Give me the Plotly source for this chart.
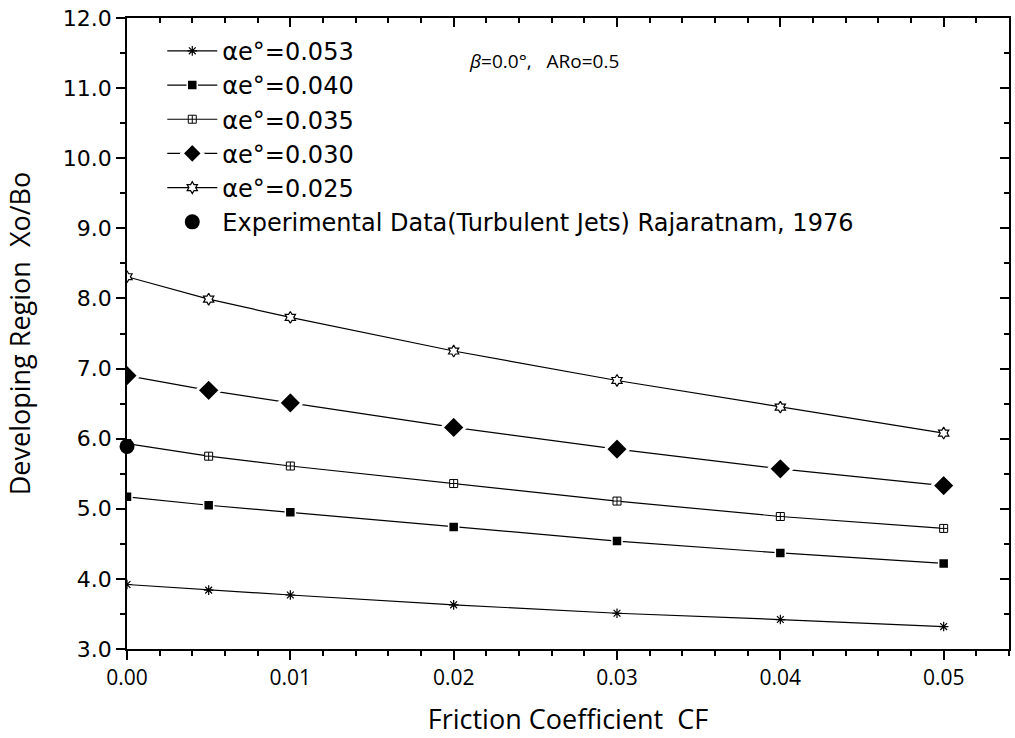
import plotly.graph_objects as go

cf = [0.0, 0.005, 0.01, 0.02, 0.03, 0.04, 0.05]
s053 = [3.92, 3.84, 3.77, 3.63, 3.51, 3.42, 3.32]
s040 = [5.17, 5.05, 4.95, 4.74, 4.54, 4.37, 4.22]
s035 = [5.93, 5.75, 5.61, 5.36, 5.11, 4.89, 4.72]
s030 = [6.90, 6.69, 6.51, 6.16, 5.85, 5.57, 5.33]
s025 = [8.31, 7.99, 7.73, 7.25, 6.83, 6.45, 6.08]
exp_x = [0.0]
exp_y = [5.89]

names = ["αe°=0.053", "αe°=0.040", "αe°=0.035", "αe°=0.030", "αe°=0.025"]
series = [s053, s040, s035, s030, s025]
symbols = ["asterisk-open", "square", "square-cross", "diamond", "hexagram"]
fills = ["black", "black", "white", "black", "white"]
mlines = [dict(color="black", width=1.2), dict(color="white", width=1.5),
          dict(color="black", width=1), dict(color="white", width=3),
          dict(color="black", width=1.2)]
sizes = [8, 10, 8, 18, 9]

FONT = "DejaVu Sans"
fig = go.Figure()
for n, s, sym, fc, ml, sz in zip(names, series, symbols, fills, mlines, sizes):
    fig.add_trace(go.Scatter(
        x=cf, y=s, name=n, mode="lines+markers",
        line=dict(color="black", width=1.2),
        marker=dict(symbol=sym, color=fc, size=sz, line=ml),
    ))
# experimental point plotted on the overlay axes (same ranges) so those axes get drawn
fig.add_trace(go.Scatter(
    x=exp_x, y=exp_y, name="Experimental Data(Turbulent Jets) Rajaratnam, 1976",
    mode="markers", marker=dict(symbol="circle", color="black", size=15),
    cliponaxis=False, xaxis="x2", yaxis="y2",
))

XR = [0, 0.054]
YR = [3, 12]
xt = [0, 0.01, 0.02, 0.03, 0.04, 0.05]
axis_common = dict(showline=True, linecolor="black", linewidth=1.5, showgrid=False,
                   zeroline=False)
fig.update_layout(
    width=1015, height=738,
    margin=dict(l=127, r=6, t=18, b=89),
    paper_bgcolor="white", plot_bgcolor="white",
    font=dict(family=FONT, color="black"),
    xaxis=dict(range=XR, tickvals=xt,
               ticktext=["0.00", "0.01", "0.02", "0.03", "0.04", "0.05"],
               ticks="outside", ticklen=9, tickwidth=1.5, tickcolor="black",
               minor=dict(dtick=0.002, tick0=0, ticks="outside", ticklen=5, tickcolor="black"),
               tickfont=dict(family="Open Sans", size=21),
               title=dict(text="Friction Coefficient  CF", font=dict(family="Open Sans", size=27),
                          standoff=20),
               **axis_common),
    yaxis=dict(range=YR, dtick=1, tick0=3, tickformat=".1f",
               ticks="outside", ticklen=9, tickwidth=1.5, tickcolor="black",
               minor=dict(dtick=0.5, tick0=3, ticks="outside", ticklen=5, tickcolor="black"),
               tickfont=dict(family=FONT, size=22),
               title=dict(text="Developing Region  Xo/Bo", font=dict(family="Open Sans", size=27),
                          standoff=24),
               **axis_common),
    xaxis2=dict(overlaying="x", side="top", range=XR,
                tickvals=xt, showticklabels=False,
                ticks="inside", ticklen=9, tickwidth=1.5, tickcolor="black",
                minor=dict(dtick=0.002, tick0=0, ticks="inside", ticklen=5, tickcolor="black"),
                **axis_common),
    yaxis2=dict(overlaying="y", side="right", range=YR, dtick=1, tick0=3,
                showticklabels=False,
                ticks="inside", ticklen=9, tickwidth=1.5, tickcolor="black",
                minor=dict(dtick=0.5, tick0=3, ticks="inside", ticklen=5, tickcolor="black"),
                **axis_common),
    legend=dict(x=0.04, y=0.983, xanchor="left", yanchor="top",
                bgcolor="rgba(0,0,0,0)", font=dict(family=FONT, size=24),
                itemsizing="trace", itemwidth=50),
    showlegend=True,
)
fig.add_annotation(xref="paper", yref="paper", x=0.385, y=0.932, xanchor="left",
                   yanchor="middle", showarrow=False, text="<i>β</i>=0.0°,   ARo=0.5",
                   font=dict(family="Open Sans", size=19))
fig.write_html("out.html")
